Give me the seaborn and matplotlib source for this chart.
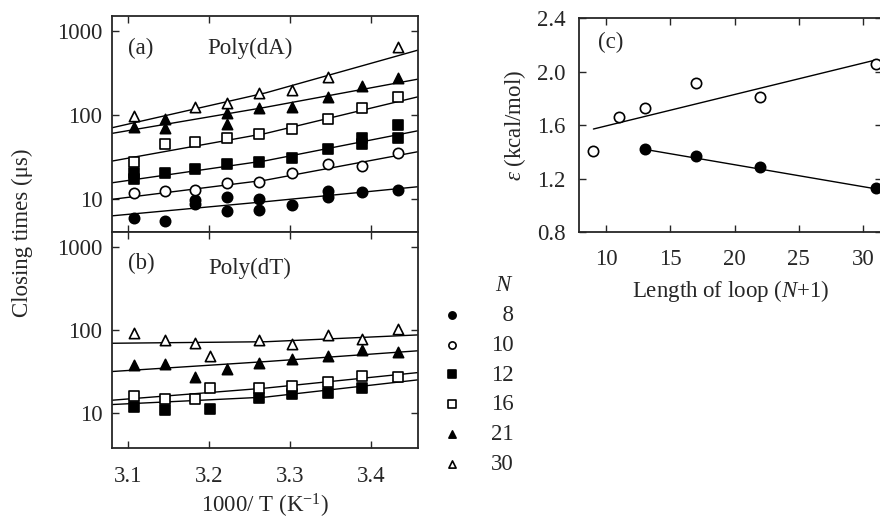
import matplotlib
matplotlib.use("Agg")
import matplotlib.pyplot as plt
import seaborn as sns
import numpy as np

sns.set_style("ticks")
plt.rcParams['font.family'] = ['Liberation Serif', 'DejaVu Serif']
plt.rcParams['mathtext.fontset'] = 'custom'
plt.rcParams['mathtext.rm'] = 'Liberation Serif'
plt.rcParams['mathtext.it'] = 'Liberation Serif:italic'

FS = 16.5

# ---- panel (a): Poly(dA), closing times vs 1000/T ----
a8_x = [3.107, 3.145, 3.183, 3.183, 3.222, 3.222, 3.262, 3.262, 3.302, 3.347, 3.347, 3.389, 3.433]
a8_y = [5.9, 5.5, 9.7, 8.7, 10.6, 7.1, 10.0, 7.4, 8.5, 12.4, 10.6, 12.2, 12.8]
a10_x = [3.107, 3.145, 3.183, 3.222, 3.262, 3.302, 3.347, 3.389, 3.433]
a10_y = [11.7, 12.6, 12.8, 15.4, 15.8, 20.2, 26.1, 25.0, 35.6]
a12_x = [3.107, 3.107, 3.145, 3.183, 3.222, 3.262, 3.302, 3.347, 3.389, 3.389, 3.433, 3.433]
a12_y = [20.2, 17.1, 20.6, 22.6, 25.9, 27.8, 30.5, 39, 54, 45, 76, 54]
a16_x = [3.107, 3.145, 3.183, 3.222, 3.262, 3.302, 3.347, 3.389, 3.433]
a16_y = [27.8, 45, 48, 54, 59, 69, 91, 120, 165]
a21_x = [3.107, 3.145, 3.145, 3.222, 3.222, 3.262, 3.302, 3.347, 3.389, 3.433]
a21_y = [72.6, 91, 70.6, 105, 78, 120, 124, 165, 221, 274]
a30_x = [3.107, 3.183, 3.222, 3.262, 3.302, 3.347, 3.433]
a30_y = [97, 124, 138, 185, 199, 286, 650]

# fitted curves (read at left edge, middle, right edge)
fit_x = [3.08, 3.27, 3.458]
fit_a8 = [6.3, 9.3, 14]
fit_a10 = [9.9, 16.8, 36.6]
fit_a12 = [15.6, 28.6, 65]
fit_a16 = [28.3, 60.5, 165]
fit_a21 = [60.5, 124, 268]
fit_a30 = [70.6, 184, 594]

# ---- panel (b): Poly(dT) ----
b12_x = [3.107, 3.145, 3.201, 3.262, 3.302, 3.347, 3.389]
b12_y = [11.9, 10.9, 11.1, 15, 16.9, 17.3, 19.9]
b16_x = [3.107, 3.145, 3.183, 3.201, 3.262, 3.302, 3.347, 3.389, 3.433]
b16_y = [16, 14.6, 14.6, 19.9, 19.9, 21.1, 23.8, 27.9, 27.4]
b21_x = [3.107, 3.145, 3.183, 3.222, 3.262, 3.302, 3.347, 3.389, 3.433]
b21_y = [37.8, 39, 26.9, 33.6, 40.4, 44.3, 48.6, 57, 54.8]
b30_x = [3.107, 3.145, 3.183, 3.201, 3.262, 3.302, 3.347, 3.389, 3.433]
b30_y = [91, 76, 69, 48.6, 75, 68, 87, 77, 103]

fit_b12 = [12.6, 15.5, 25]
fit_b16 = [14.2, 19.9, 30.6]
fit_b21 = [31.5, 41.5, 56]
fit_b30 = [69, 72, 87]

# ---- panel (c): epsilon vs loop length ----
loop_open = [9, 11, 13, 17, 22, 31]
eps_open = [1.41, 1.664, 1.731, 1.914, 1.809, 2.058]
loop_filled = [13, 17, 22, 31]
eps_filled = [1.422, 1.372, 1.285, 1.128]
fit_open_x = [9, 31]
fit_open_y = [1.572, 2.088]
fit_filled_x = [13, 31]
fit_filled_y = [1.42, 1.125]

N_labels = ['8', '10', '12', '16', '21', '30']
styles = {'8': ('o', 'black'), '10': ('o', 'white'), '12': ('s', 'black'),
          '16': ('s', 'white'), '21': ('^', 'black'), '30': ('^', 'white')}

fig = plt.figure(figsize=(8.8, 5.22), dpi=100)
ax_a = fig.add_axes([0.1273, 0.5556, 0.3477, 0.4137])
ax_b = fig.add_axes([0.1273, 0.1423, 0.3477, 0.4133], sharex=ax_a)
ax_c = fig.add_axes([0.6583, 0.555, 0.344, 0.41])

def pts(ax, x, y, key, s=55):
    m, fc = styles[key]
    sns.scatterplot(x=x, y=y, ax=ax, marker=m, s=s, facecolor=fc,
                    edgecolor='black', linewidth=1.2, label=key, zorder=3)

def fit(ax, x, y):
    sns.lineplot(x=x, y=y, ax=ax, color='black', lw=1.0, zorder=2)

a_data = {'8': (a8_x, a8_y, fit_a8), '10': (a10_x, a10_y, fit_a10),
          '12': (a12_x, a12_y, fit_a12), '16': (a16_x, a16_y, fit_a16),
          '21': (a21_x, a21_y, fit_a21), '30': (a30_x, a30_y, fit_a30)}
for k in N_labels:
    x, y, f = a_data[k]
    fit(ax_a, fit_x, f)
    pts(ax_a, x, y, k)

b_data = {'12': (b12_x, b12_y, fit_b12), '16': (b16_x, b16_y, fit_b16),
          '21': (b21_x, b21_y, fit_b21), '30': (b30_x, b30_y, fit_b30)}
for k in ['12', '16', '21', '30']:
    x, y, f = b_data[k]
    fit(ax_b, fit_x, f)
    pts(ax_b, x, y, k)

handles, labels = ax_a.get_legend_handles_labels()
for ax in (ax_a, ax_b):
    if ax.get_legend() is not None:
        ax.get_legend().remove()

for ax, ylim in ((ax_a, (10**0.607, 10**3.18)), (ax_b, (10**0.58, 10**3.18))):
    ax.set_yscale('log')
    ax.set_ylim(*ylim)
    ax.set_yticks([10, 100, 1000])
    ax.set_yticklabels(['10', '100', '1000'])
    ax.yaxis.set_minor_locator(matplotlib.ticker.NullLocator())
    ax.set_xlim(3.08, 3.458)
    ax.set_xticks([3.1, 3.2, 3.3, 3.4])
    ax.set_ylabel('')
    ax.tick_params(direction='in', length=5, width=1, top=True, right=True,
                   labelsize=FS, pad=7)
    for sp in ax.spines.values():
        sp.set_linewidth(1.3)
ax_a.tick_params(labelbottom=False)
ax_b.tick_params(axis='x', pad=13)
ax_b.set_xlabel('1000/ T (K$^{-1}$)', fontsize=FS, labelpad=4)

ax_a.text(0.052, 0.852, '(a)', transform=ax_a.transAxes, fontsize=FS, va='center')
ax_a.text(0.451, 0.852, 'Poly(dA)', transform=ax_a.transAxes, fontsize=FS,
          ha='center', va='center')
ax_b.text(0.052, 0.856, '(b)', transform=ax_b.transAxes, fontsize=FS, va='center')
ax_b.text(0.451, 0.833, 'Poly(dT)', transform=ax_b.transAxes, fontsize=FS,
          ha='center', va='center')

fig.text(22 / 880, 1 - 233 / 522, 'Closing times (\u03bcs)', rotation=90,
         fontsize=FS, ha='center', va='center')

labels_pad = ['\u2007' + l if len(l) == 1 else l for l in labels]
fig.legend(handles, labels_pad, title='$N$', loc='upper left',
           bbox_to_anchor=(0.503, 0.474), frameon=False, markerscale=0.7,
           handlelength=0.8, handletextpad=1.3, labelspacing=0.39,
           borderaxespad=0, borderpad=0, fontsize=FS, title_fontsize=FS,
           alignment='right')

# panel (c)
fit(ax_c, fit_open_x, fit_open_y)
fit(ax_c, fit_filled_x, fit_filled_y)
sns.scatterplot(x=loop_open, y=eps_open, ax=ax_c, marker='o', s=55,
                facecolor='white', edgecolor='black', linewidth=1.2, zorder=3)
sns.scatterplot(x=loop_filled, y=eps_filled, ax=ax_c, marker='o', s=55,
                facecolor='black', edgecolor='black', linewidth=1.2, zorder=3)
ax_c.set_xlim(7.9, 31.5)
ax_c.set_ylim(0.8, 2.4)
ax_c.set_xticks([10, 15, 20, 25, 30])
ax_c.set_yticks([0.8, 1.2, 1.6, 2.0, 2.4])
ax_c.yaxis.set_major_formatter(matplotlib.ticker.FormatStrFormatter('%.1f'))
ax_c.tick_params(direction='in', length=5, width=1, top=True, right=True,
                 labelsize=FS, pad=10)
ax_c.tick_params(axis='x', pad=12)
for sp in ax_c.spines.values():
    sp.set_linewidth(1.3)
ax_c.set_xlabel('Length of loop ($\\mathit{N}$+1)', fontsize=FS, labelpad=6)
ax_c.set_ylabel('$\\mathit{\u03b5}$ (kcal/mol)', fontsize=FS, labelpad=6)
ax_c.text(0.062, 0.889, '(c)', transform=ax_c.transAxes, fontsize=FS, va='center')

fig.savefig('out.png', dpi=100)
